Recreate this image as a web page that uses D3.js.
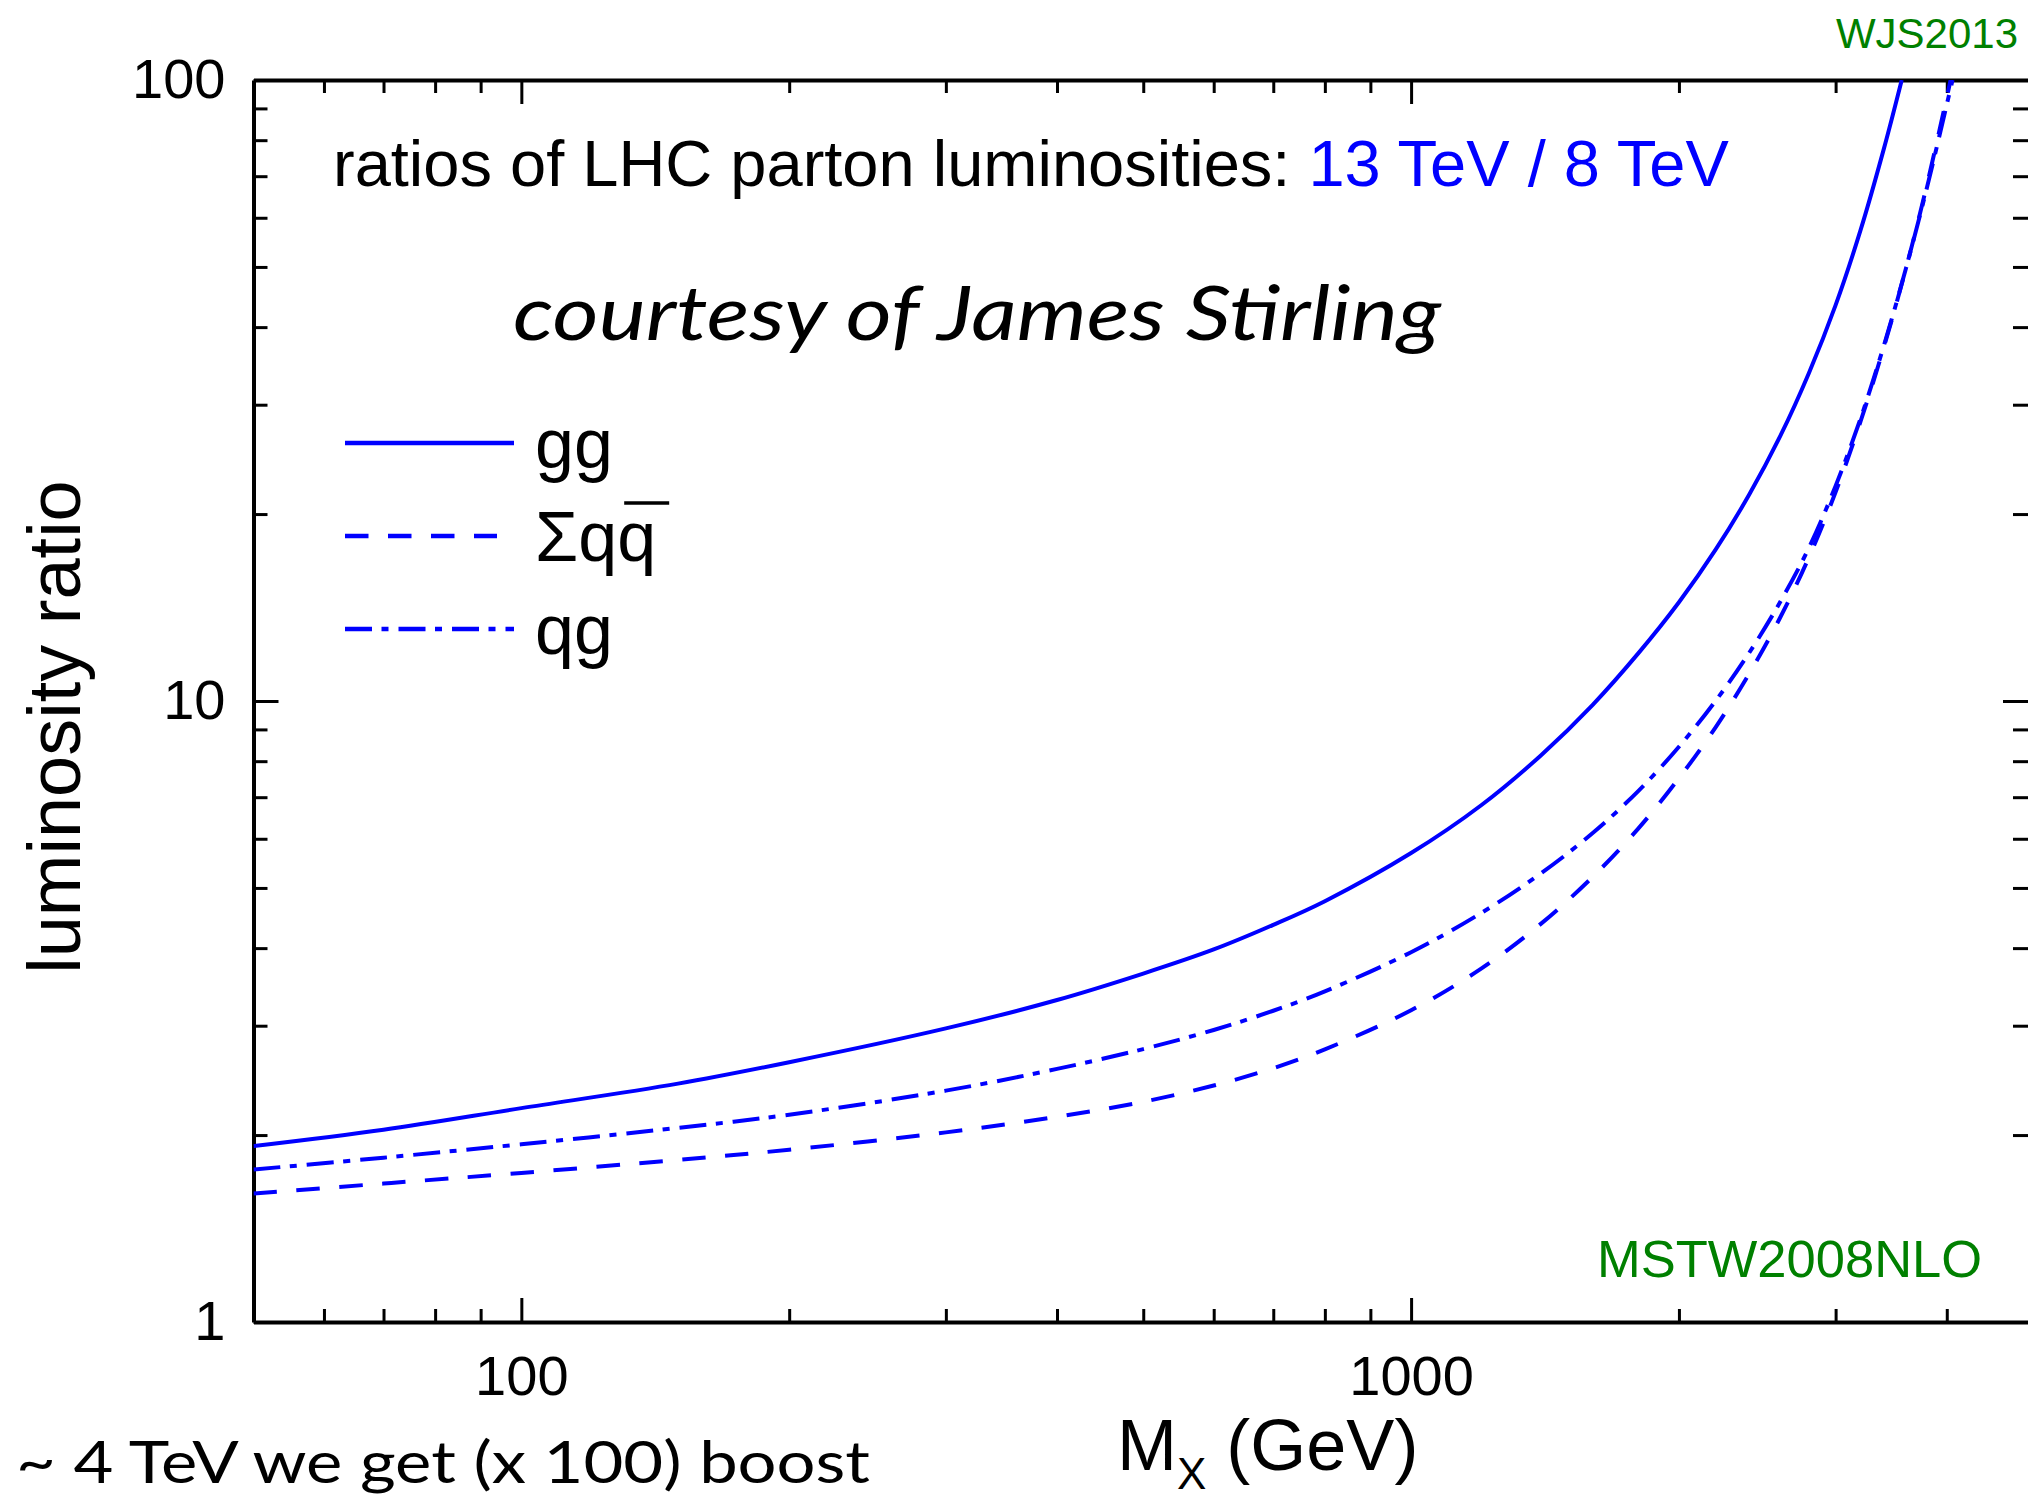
<!DOCTYPE html>
<html>
<head>
<meta charset="utf-8">
<script src="https://cdn.jsdelivr.net/npm/d3@7"></script>
<style>
  html, body { margin: 0; padding: 0; background: #ffffff; }
  svg { display: block; }
</style>
</head>
<body>
<svg id="chart" width="2028" height="1500"></svg>
<script>
// Ratio of parton luminosities, 13 TeV over 8 TeV, as a function of the invariant mass M_X (GeV)
const ggMass    = [50, 70, 100, 150, 200, 300, 400, 500, 600, 700, 800, 1000, 1200, 1400, 1600, 1800, 2000, 2200, 2400, 2600, 2800, 3000, 3200, 3400, 3560];
const ggRatio   = [1.92, 2.04, 2.21, 2.42, 2.62, 2.97, 3.30, 3.64, 3.98, 4.36, 4.76, 5.69, 6.80, 8.18, 9.86, 11.93, 14.42, 17.54, 21.52, 26.72, 33.75, 43.4, 57.3, 77.6, 100];

const qqbarMass  = [50, 70, 100, 150, 200, 300, 400, 500, 600, 700, 800, 1000, 1200, 1400, 1600, 1800, 2000, 2200, 2400, 2600, 2800, 3000, 3200, 3400, 3600, 3800, 4040];
const qqbarRatio = [1.61, 1.671, 1.738, 1.824, 1.894, 2.02, 2.14, 2.263, 2.403, 2.563, 2.748, 3.177, 3.71, 4.38, 5.21, 6.23, 7.51, 9.08, 11.08, 13.64, 17.04, 21.7, 28.2, 37.2, 49.8, 67.8, 100];

const qgMass    = [50, 70, 100, 150, 200, 300, 400, 500, 600, 700, 800, 1000, 1200, 1400, 1600, 1800, 2000, 2200, 2400, 2600, 2800, 3000, 3200, 3400, 3600, 3800, 4060];
const qgRatio   = [1.76, 1.839, 1.933, 2.054, 2.157, 2.358, 2.556, 2.751, 2.953, 3.171, 3.408, 3.94, 4.56, 5.28, 6.13, 7.16, 8.44, 10.01, 11.97, 14.45, 17.65, 22.2, 28.5, 37.4, 49.8, 67.1, 100];

// Axis ticks
const xMajorTicks = [100, 1000];
const xMinorTicks = [60, 70, 80, 90, 200, 300, 400, 500, 600, 700, 800, 900, 2000, 3000, 4000];
const yMajorTicks = [1, 10, 100];
const yMinorTicks = [2, 3, 4, 5, 6, 7, 8, 9, 20, 30, 40, 50, 60, 70, 80, 90];

// Legend entries (Σqq is drawn with a bar over the second q)
const seriesNames = ["gg", "Σqq", "qg"];

const BLUE = "#0000ff";
const GREEN = "#008000";
const SANS = "'Liberation Sans', Arial, Helvetica, sans-serif";
const HUMANIST = "Lato, 'Open Sans', 'Noto Sans', sans-serif";

const svg = d3.select("#chart");
svg.append("rect").attr("width", 2028).attr("height", 1500).attr("fill", "#ffffff");

const frame = { left: 253.5, right: 2033, top: 80, bottom: 1322 };

const x = d3.scaleLog().domain([50, 5000]).range([frame.left, frame.right]);
const y = d3.scaleLog().domain([1, 100]).range([frame.bottom, frame.top]);

const zip = (ms, rs) => ms.map((m, i) => ({ m, r: rs[i] }));
const series = [
  { name: seriesNames[0], points: zip(ggMass, ggRatio),       dash: null },
  { name: seriesNames[1], points: zip(qqbarMass, qqbarRatio), dash: "23.5 19.5" },
  { name: seriesNames[2], points: zip(qgMass, qgRatio),       dash: "27 9.5 7 10" }
];

// ---- axes ----
function styleAxis(g, withDomain) {
  g.attr("font-family", SANS).attr("font-size", 56);
  if (withDomain) {
    g.select(".domain").attr("stroke", "#000").attr("stroke-width", 4);
  } else {
    g.select(".domain").remove();
  }
  g.selectAll(".tick line").attr("stroke", "#000").attr("stroke-width", 3);
  g.selectAll(".tick text").attr("fill", "#000");
}

// bottom
svg.append("g").attr("transform", `translate(0,${frame.bottom})`)
  .call(d3.axisBottom(x).tickValues(xMinorTicks).tickSize(-13).tickSizeOuter(0).tickFormat(""))
  .call(g => styleAxis(g, false));
svg.append("g").attr("transform", `translate(0,${frame.bottom})`)
  .call(d3.axisBottom(x).tickValues(xMajorTicks).tickSize(-24).tickSizeOuter(0).tickPadding(33).tickFormat(d3.format("d")))
  .call(g => styleAxis(g, true));

// top
svg.append("g").attr("transform", `translate(0,${frame.top})`)
  .call(d3.axisTop(x).tickValues(xMinorTicks).tickSize(-13).tickSizeOuter(0).tickFormat(""))
  .call(g => styleAxis(g, false));
svg.append("g").attr("transform", `translate(0,${frame.top})`)
  .call(d3.axisTop(x).tickValues(xMajorTicks).tickSize(-24).tickSizeOuter(0).tickFormat(""))
  .call(g => styleAxis(g, true));

// left
svg.append("g").attr("transform", `translate(${frame.left},0)`)
  .call(d3.axisLeft(y).tickValues(yMinorTicks).tickSize(-14).tickSizeOuter(0).tickFormat(""))
  .call(g => styleAxis(g, false));
svg.append("g").attr("transform", `translate(${frame.left},0)`)
  .call(d3.axisLeft(y).tickValues(yMajorTicks).tickSize(-25).tickSizeOuter(0).tickPadding(28).tickFormat(d3.format("d")))
  .call(g => styleAxis(g, true));

// right
svg.append("g").attr("transform", `translate(${frame.right},0)`)
  .call(d3.axisRight(y).tickValues(yMinorTicks).tickSize(-20).tickSizeOuter(0).tickFormat(""))
  .call(g => styleAxis(g, false));
svg.append("g").attr("transform", `translate(${frame.right},0)`)
  .call(d3.axisRight(y).tickValues(yMajorTicks).tickSize(-30).tickSizeOuter(0).tickFormat(""))
  .call(g => styleAxis(g, true));

// ---- curves ----
svg.append("defs").append("clipPath").attr("id", "plot-clip")
  .append("rect")
  .attr("x", frame.left).attr("y", frame.top)
  .attr("width", frame.right - frame.left).attr("height", frame.bottom - frame.top);

const line = d3.line()
  .x(d => x(d.m))
  .y(d => y(d.r))
  .curve(d3.curveCatmullRom.alpha(0.5));

svg.append("g").attr("clip-path", "url(#plot-clip)")
  .selectAll("path.curve")
  .data(series)
  .join("path")
  .attr("class", "curve")
  .attr("d", d => line(d.points))
  .attr("fill", "none")
  .attr("stroke", BLUE)
  .attr("stroke-width", 4)
  .attr("stroke-dasharray", d => d.dash);

// ---- legend ----
const legend = svg.append("g").attr("transform", "translate(345,443)");
const rows = legend.selectAll("g.row")
  .data(series)
  .join("g")
  .attr("class", "row")
  .attr("transform", (d, i) => `translate(0,${i * 93})`);

rows.append("line")
  .attr("x1", 0).attr("x2", (d, i) => i === 1 ? 152 : 169)
  .attr("y1", 0).attr("y2", 0)
  .attr("stroke", BLUE)
  .attr("stroke-width", 4.5)
  .attr("stroke-dasharray", d => d.dash);

const labels = rows.append("text")
  .attr("x", 190)
  .attr("y", 25)
  .attr("font-family", SANS)
  .attr("font-size", 70)
  .attr("fill", "#000")
  .text(d => d.name);

// anti-quark bar over the second q of Σqq
labels.filter((d, i) => i === 1).each(function() {
  const node = this;
  const start = node.getStartPositionOfChar(2).x;
  d3.select(node.parentNode).append("line")
    .attr("x1", start + 7).attr("x2", start + 52)
    .attr("y1", -33).attr("y2", -33)
    .attr("stroke", "#000")
    .attr("stroke-width", 3.5);
});

// ---- annotations ----
const title = svg.append("text")
  .attr("x", 333).attr("y", 186)
  .attr("font-family", SANS).attr("font-size", 65).attr("fill", "#000");
title.append("tspan").text("ratios of LHC parton luminosities: ");
title.append("tspan").attr("fill", BLUE).text("13 TeV / 8 TeV");

svg.append("text")
  .attr("x", 513).attr("y", 340)
  .attr("font-family", HUMANIST).attr("font-style", "italic").attr("font-size", 76)
  .attr("textLength", 928).attr("lengthAdjust", "spacingAndGlyphs")
  .attr("fill", "#000")
  .text("courtesy of James Stirling");

svg.append("text")
  .attr("x", 2018).attr("y", 48)
  .attr("text-anchor", "end")
  .attr("font-family", SANS).attr("font-size", 42).attr("fill", GREEN)
  .text("WJS2013");

svg.append("text")
  .attr("x", 1597).attr("y", 1277)
  .attr("font-family", SANS).attr("font-size", 52.5).attr("fill", GREEN)
  .text("MSTW2008NLO");

// axis titles
svg.append("text")
  .attr("transform", "translate(80,727) rotate(-90)")
  .attr("text-anchor", "middle")
  .attr("font-family", SANS).attr("font-size", 74).attr("fill", "#000")
  .text("luminosity ratio");

const xTitle = svg.append("text")
  .attr("x", 1117).attr("y", 1470)
  .attr("font-family", SANS).attr("font-size", 72).attr("fill", "#000");
xTitle.append("tspan").text("M");
xTitle.append("tspan").attr("font-size", 44).attr("dy", 19).text("X");
xTitle.append("tspan").attr("dy", -19).text(" (GeV)");

svg.append("text")
  .attr("x", 16).attr("y", 1483)
  .attr("font-family", HUMANIST).attr("font-size", 58)
  .attr("textLength", 854).attr("lengthAdjust", "spacingAndGlyphs")
  .attr("fill", "#000")
  .text("~ 4 TeV we get (x 100) boost");
</script>
</body>
</html>
